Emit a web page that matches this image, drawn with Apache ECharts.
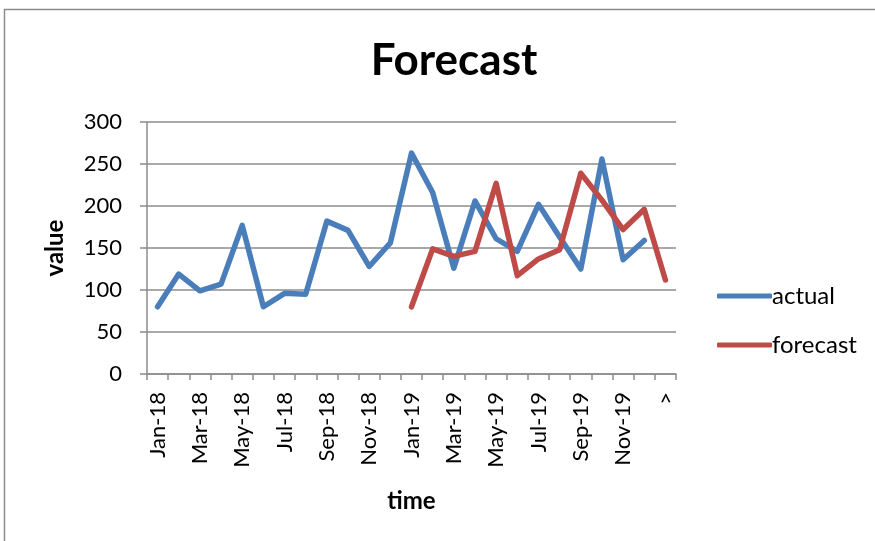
<!DOCTYPE html>
<html>
<head>
<meta charset="utf-8">
<script src="https://cdn.jsdelivr.net/npm/echarts@6/dist/echarts.min.js"></script>
<style>
  html, body { margin: 0; padding: 0; background: #fff; }
  #chart { width: 875px; height: 541px; }
</style>
</head>
<body>
<div id="chart"></div>
<script>
// Monthly periods shown on the time axis (last one is the next period, drawn as ">")
const months = ['Jan-18','Feb-18','Mar-18','Apr-18','May-18','Jun-18','Jul-18','Aug-18','Sep-18','Oct-18','Nov-18','Dec-18',
                'Jan-19','Feb-19','Mar-19','Apr-19','May-19','Jun-19','Jul-19','Aug-19','Sep-19','Oct-19','Nov-19','Dec-19','>'];

// Observed values
const actual = [80, 119, 99, 107, 177, 80, 96, 95, 182, 171, 128, 156,
                263, 216, 126, 206, 161, 146, 202, 163, 125, 256, 136, 159, null];

// Forecast values (start in Jan-19)
const forecast = [null, null, null, null, null, null, null, null, null, null, null, null,
                  80, 149, 140, 146, 227, 117, 137, 148, 239, 207, 172, 196, 112];

const yTicks = { min: 0, max: 300, interval: 50 };

const font = 'Lato, "Open Sans", sans-serif';
const chart = echarts.init(document.getElementById('chart'), null, { renderer: 'canvas' });

chart.setOption({
  animation: false,
  backgroundColor: '#ffffff',
  title: {
    text: 'Forecast',
    left: 449,
    top: 34,
    textAlign: 'center',
    textStyle: { fontFamily: font, fontSize: 44, fontWeight: 'bold', color: '#000' }
  },
  graphic: [{
    type: 'rect',
    shape: { x: 4.5, y: 9.5, width: 1000, height: 1000 },
    style: { fill: 'none', stroke: '#8c8c8c', lineWidth: 1.5 },
    silent: true
  }],
  legend: {
    orient: 'vertical',
    left: 712,
    top: 279,
    itemWidth: 55,
    itemHeight: 5,
    itemGap: 25,
    icon: 'roundRect',
    textStyle: { fontFamily: font, fontSize: 24, color: '#000', padding: [0, 0, 0, -5] },
    data: ['actual', 'forecast']
  },
  grid: { left: 147, right: 199, top: 122, bottom: 167, containLabel: false },
  xAxis: {
    type: 'category',
    data: months,
    boundaryGap: true,
    name: 'time',
    nameLocation: 'middle',
    nameGap: 115,
    nameTextStyle: { fontFamily: font, fontSize: 24, fontWeight: 'bold', color: '#000' },
    axisLine: { lineStyle: { color: '#8c8c8c', width: 1.5 } },
    axisTick: { show: true, alignWithLabel: false, interval: 0, length: 6, lineStyle: { color: '#8c8c8c', width: 1.5 } },
    axisLabel: { interval: 1, rotate: 90, margin: 18, fontFamily: font, fontSize: 22, color: '#000' },
    splitLine: { show: false }
  },
  yAxis: {
    type: 'value',
    min: yTicks.min,
    max: yTicks.max,
    interval: yTicks.interval,
    name: 'value',
    nameLocation: 'middle',
    nameGap: 80,
    nameRotate: 90,
    nameTextStyle: { fontFamily: font, fontSize: 24, fontWeight: 'bold', color: '#000' },
    axisLine: { show: true, lineStyle: { color: '#8c8c8c', width: 1.5 } },
    axisTick: { show: true, length: 7, lineStyle: { color: '#8c8c8c', width: 1.5 } },
    axisLabel: { margin: 25, fontFamily: font, fontSize: 22, color: '#000' },
    splitLine: { lineStyle: { color: '#8c8c8c', width: 1.5 } }
  },
  series: [
    {
      name: 'actual',
      type: 'line',
      data: actual,
      showSymbol: false,
      symbol: 'none',
      connectNulls: false,
      color: '#4a7ebb',
      lineStyle: { width: 5.5, color: '#4a7ebb', cap: 'round', join: 'round' }
    },
    {
      name: 'forecast',
      type: 'line',
      data: forecast,
      showSymbol: false,
      symbol: 'none',
      connectNulls: false,
      color: '#be4b48',
      lineStyle: { width: 5.5, color: '#be4b48', cap: 'round', join: 'round' }
    }
  ]
});
</script>
</body>
</html>
